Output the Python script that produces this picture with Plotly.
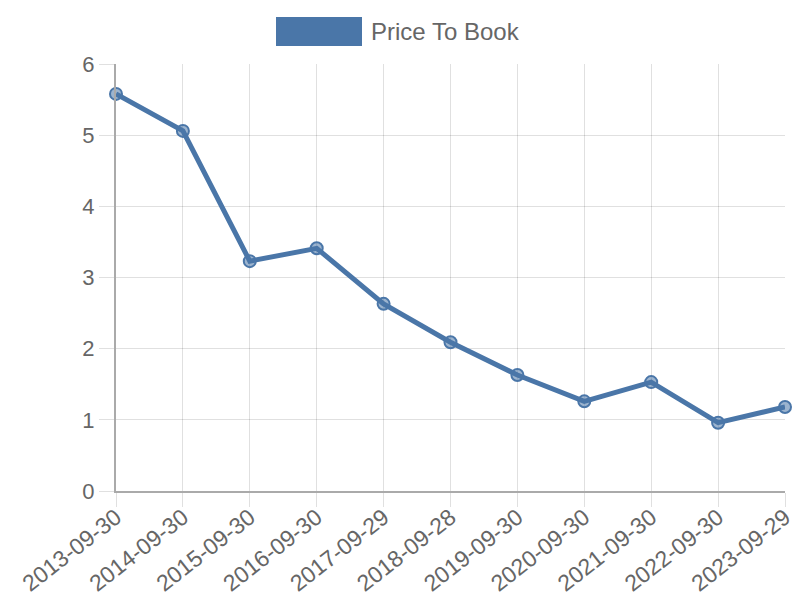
import plotly.graph_objects as go

dates = ["2013-09-30", "2014-09-30", "2015-09-30", "2016-09-30", "2017-09-29",
         "2018-09-28", "2019-09-30", "2020-09-30", "2021-09-30", "2022-09-30", "2023-09-29"]
price_to_book = [5.58, 5.06, 3.23, 3.41, 2.63, 2.09, 1.63, 1.26, 1.53, 0.96, 1.18]
series_name = "Price To Book"
y_ticks = [0, 1, 2, 3, 4, 5, 6]

line_color = "#4a76a8"
grid_color = "rgba(0,0,0,0.12)"
font_family = "Liberation Sans, Arial, Helvetica, sans-serif"

fig = go.Figure()
fig.add_trace(go.Scatter(
    x=list(range(len(dates))), y=price_to_book, mode="lines+markers", name=series_name,
    line=dict(color=line_color, width=5),
    marker=dict(size=12, color="rgba(74,118,168,0.55)", line=dict(color=line_color, width=2)),
    showlegend=False, cliponaxis=False,
))

fig.update_layout(
    width=800, height=600,
    margin=dict(l=116, r=15, t=64, b=109),
    paper_bgcolor="white", plot_bgcolor="white",
    font=dict(family=font_family, color="#666666", size=22),
    xaxis=dict(
        tickmode="array", tickvals=list(range(len(dates))), ticktext=dates,
        range=[0, len(dates) - 1], tickangle=-38,
        showgrid=True, gridcolor=grid_color, gridwidth=1,
        ticks="outside", ticklen=14, tickcolor=grid_color,
        ticklabelstandoff=-12,
        showline=True, linecolor="#aaaaaa", linewidth=2,
        zeroline=False, tickfont=dict(size=23, color="#666666"),
        automargin=False,
    ),
    yaxis=dict(
        range=[0, 6], tickvals=y_ticks,
        showgrid=True, gridcolor=grid_color, gridwidth=1,
        ticks="outside", ticklen=15, tickcolor=grid_color,
        showline=True, linecolor="#aaaaaa", linewidth=2,
        zeroline=False, tickfont=dict(size=22, color="#666666"),
        automargin=False,
    ),
    shapes=[dict(type="rect", xref="paper", yref="paper",
                 x0=(276 - 116) / 669, x1=(362 - 116) / 669,
                 y0=(491 - 46) / 427, y1=(491 - 17) / 427,
                 fillcolor=line_color, line=dict(width=0))],
    annotations=[dict(text=series_name, xref="paper", yref="paper",
                      x=(369 - 116) / 669, y=(491 - 32) / 427,
                      xanchor="left", yanchor="middle", showarrow=False,
                      font=dict(size=24, color="#666666"))],
)

fig.write_html("out.html", config={"displayModeBar": False},
               post_script="document.body.style.margin='0';document.body.style.padding='0';")
